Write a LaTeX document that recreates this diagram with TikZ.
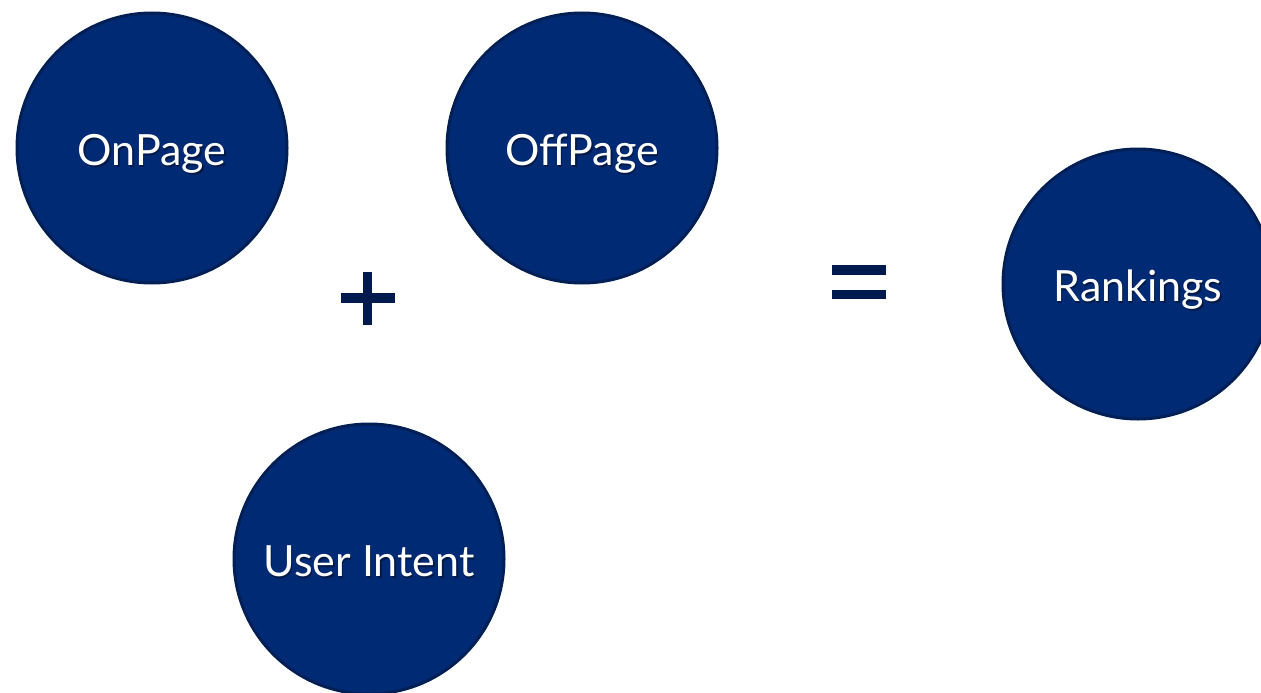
\documentclass[tikz,border=0pt]{standalone}
\usepackage{xcolor}
\usepackage{fontspec}
\setmainfont{Lato}
\usepackage{tikz}
\usetikzlibrary{positioning, calc}
\definecolor{navy}{RGB}{0, 42, 116}
\definecolor{navyedge}{RGB}{0, 31, 85}
\definecolor{navyshade}{RGB}{0, 26, 72}
\definecolor{signcol}{RGB}{0, 26, 78}
\newcommand{\shadowtext}[1]{\raisebox{-17pt}[0pt][0pt]{\makebox[0pt][l]{\hspace{1.5pt}\raisebox{-2pt}{\textcolor{navyshade}{#1}}}#1}}
\tikzstyle{factor} = [circle, minimum size=270pt, inner sep=0pt, draw=navyedge, line width=3pt, fill=navy, text=white, font=\fontsize{43}{50}\selectfont]
\tikzstyle{sign} = [draw=none, fill=signcol]

\begin{document}
\begin{tikzpicture}[x=1pt, y=-1pt]
    \useasboundingbox (0, 0) rectangle (1261, 693);

    % Factors
    \node[factor] (onpage) at (152, 148) {\shadowtext{OnPage}};
    \node[factor] (offpage) at (582, 148) {\shadowtext{OffPage}};
    \node[factor] (intent) at (369, 559) {\shadowtext{User Intent}};
    \node[factor] (rankings) at (1138, 284) {\shadowtext{Rankings}};

    % Plus
    \coordinate (plus) at (367.5, 298);
    \fill[sign] ($(plus) + (-27, -5)$) rectangle ($(plus) + (27, 5)$);
    \fill[sign] ($(plus) + (-4.5, -26)$) rectangle ($(plus) + (4.5, 27)$);

    % Equals
    \coordinate (equals) at (859, 282);
    \fill[sign] ($(equals) + (-27, -17)$) rectangle ($(equals) + (27, -7)$);
    \fill[sign] ($(equals) + (-27, 8)$) rectangle ($(equals) + (27, 17)$);
\end{tikzpicture}
\end{document}
